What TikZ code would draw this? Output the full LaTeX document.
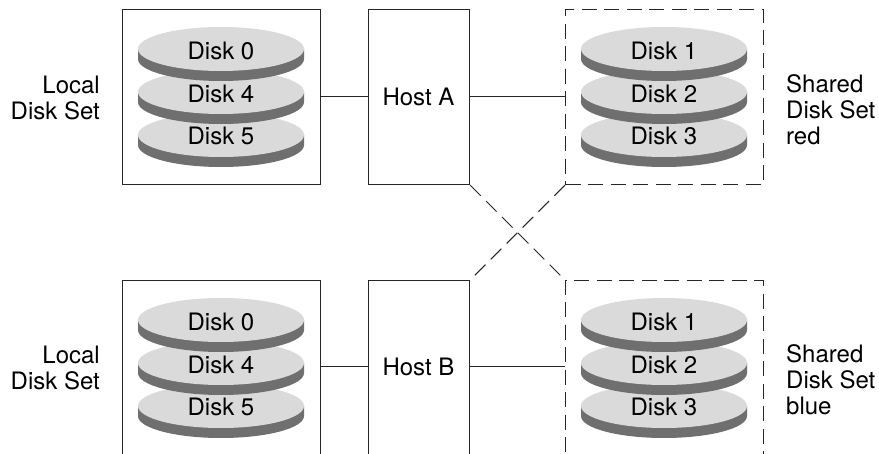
\documentclass[tikz,border=0pt]{standalone}
\usepackage{fontspec}
\setmainfont{TeX Gyre Heros}
\tikzset{
  box/.style={draw=black!85,line width=1.1pt,minimum width=198pt,inner sep=0pt,anchor=north west},
  dbox/.style={box,dash pattern=on 15pt off 7.5pt},
  hostbox/.style={box,minimum width=101pt},
  wire/.style={draw=black!85,line width=1pt},
  dwire/.style={wire,dash pattern=on 15pt off 7.5pt},
  lbl/.style={font=\fontsize{24}{26}\selectfont,inner sep=0pt},
  disklabel/.style={lbl,text=black},
  pics/disk/.style={code={
    \fill[diskdark] (-83,0) -- (-83,10) arc[start angle=180,end angle=360,x radius=83,y radius=-22] -- (83,0) -- cycle;
    \fill[disklight] (0,0) ellipse[x radius=83,y radius=22];
  }}
}
\definecolor{diskdark}{HTML}{6F6F6F}
\definecolor{disklight}{HTML}{DADADA}
\begin{document}
\begin{tikzpicture}[x=1pt,y=-1pt]
\clip (0,0) rectangle (879,454);
\fill[white] (0,0) rectangle (879,454);
% boxes
\node[box,minimum height=175pt]   (la) at (122,9) {};
\node[hostbox,minimum height=175pt] (ha) at (368,9) {};
\node[dbox,minimum height=175pt]  (sa) at (565,9) {};
\node[box,minimum height=190pt]   (lb) at (122,280) {};
\node[hostbox,minimum height=190pt] (hb) at (368,280) {};
\node[dbox,minimum height=190pt]  (sb) at (565,280) {};
% disks, drawn from the bottom of each stack upward
\foreach \cx/\cy/\a/\b/\c in {221/49/0/4/5, 664/49/1/2/3, 221/320/0/4/5, 664/320/1/2/3}{
  \pic at (\cx,\cy+86) {disk};
  \pic at (\cx,\cy+43) {disk};
  \pic at (\cx,\cy) {disk};
  \node[disklabel] at (\cx,\cy+1.5) {Disk \a};
  \node[disklabel] at (\cx,\cy+44.5) {Disk \b};
  \node[disklabel] at (\cx,\cy+87) {Disk \c};
}
% host labels
\node[lbl] (hal) at (418.5,97) {Host A};
\node[lbl] (hbl) at (418.5,367) {Host B};
% side labels
\node[lbl,align=right,anchor=east] (l1) at (100,97.5) {Local\\Disk Set};
\node[lbl,align=right,anchor=east] (l2) at (100,367.5) {Local\\Disk Set};
\node[lbl,align=left,anchor=west] (s1) at (786,110) {Shared\\Disk Set\\red};
\node[lbl,align=left,anchor=west] (s2) at (786,380) {Shared\\Disk Set\\blue};
% connectors
\path[wire] (la.east |- 0,97) -- (ha.west |- 0,97);
\path[wire] (ha.east |- 0,97) -- (sa.west |- 0,97);
\path[wire] (lb.east |- 0,367) -- (hb.west |- 0,367);
\path[wire] (hb.east |- 0,367) -- (sb.west |- 0,367);
\path[dwire] (ha.south east) -- (sb.north west);
\path[dwire] (sa.south west) -- (hb.north east);
\end{tikzpicture}
\end{document}
